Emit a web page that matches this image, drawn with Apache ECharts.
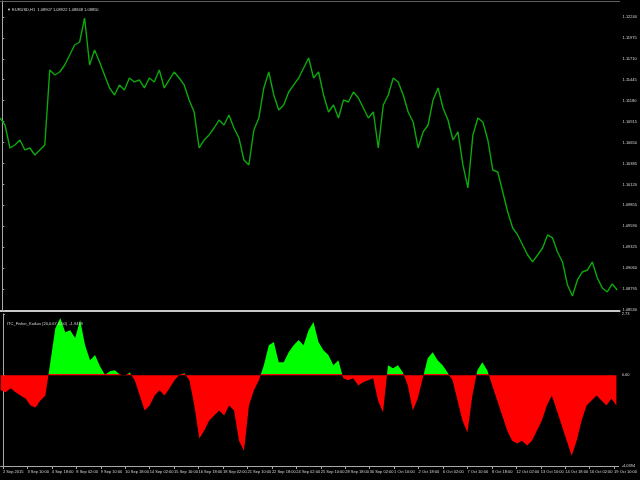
<!DOCTYPE html>
<html><head><meta charset="utf-8">
<script src="https://cdn.jsdelivr.net/npm/echarts@6/dist/echarts.min.js"></script>
<style>html,body{margin:0;padding:0;background:#000}#c{width:640px;height:480px}</style>
</head><body><div id="c"></div>
<script>
// ---- data ----
const chartTitle = '\u25BC EURUSD,H1  1.08907 1.08922 1.08848 1.08850';
const indicatorTitle = 'ITC_Fisher_Kaikus (20,0.67,0.50)  -1.9418';
const timeLabels = ['2 Sep 2015','3 Sep 10:00','4 Sep 18:00','8 Sep 02:00','9 Sep 10:00','10 Sep 18:00','14 Sep 02:00','15 Sep 10:00','16 Sep 18:00','18 Sep 02:00','21 Sep 10:00','22 Sep 18:00','24 Sep 02:00','25 Sep 10:00','28 Sep 18:00','30 Sep 02:00','1 Oct 10:00','2 Oct 18:00','6 Oct 02:00','7 Oct 10:00','8 Oct 18:00','12 Oct 02:00','13 Oct 10:00','14 Oct 18:00','16 Oct 02:00','19 Oct 10:00'];
const barsPerLabel = 32;          // H1 bars between time labels
const sampleStart = -3;           // bar index of first sample
const sampleStep = 6.5;           // bars between samples
const priceTicks = [1.08530,1.08795,1.09060,1.09325,1.09590,1.09855,1.10120,1.10385,1.10650,1.10915,1.11180,1.11445,1.11710,1.11975,1.12240];
const indicatorMax = 2.73;
const indicatorMin = -4.0394;
const indicatorTicks = [2.73, 0, -4.0394];
const indicatorTickText = ['2.73','0.00','-4.0394'];
const price = [
1.10961,1.10872,1.10581,1.10619,1.10682,1.10556,1.10581,1.10492,1.10556,1.10619,
1.11568,1.11505,1.11543,1.11632,1.11758,1.11885,1.11923,1.12227,1.11632,1.11822,
1.11670,1.11505,1.11341,1.11252,1.11379,1.11315,1.11467,1.11417,1.11442,1.11341,
1.11467,1.11417,1.11568,1.11341,1.11442,1.11543,1.11467,1.11379,1.11189,1.11037,
1.10581,1.10682,1.10746,1.10834,1.10935,1.10872,1.10999,1.10834,1.10708,1.10429,
1.10366,1.10809,1.10961,1.11341,1.11543,1.11252,1.11062,1.11125,1.11290,1.11379,
1.11467,1.11594,1.11720,1.11467,1.11543,1.11252,1.11037,1.11125,1.10961,1.11189,
1.11163,1.11290,1.11214,1.11087,1.10961,1.11037,1.10581,1.11125,1.11252,1.11467,
1.11417,1.11252,1.11037,1.10910,1.10581,1.10784,1.10872,1.11189,1.11341,1.11087,
1.10935,1.10682,1.10784,1.10366,1.10075,1.10746,1.10961,1.10910,1.10682,1.10302,
1.10277,1.10024,1.09771,1.09568,1.09480,1.09353,1.09226,1.09138,1.09226,1.09315,
1.09480,1.09442,1.09264,1.09138,1.08847,1.08707,1.08910,1.09011,1.09036,1.09138,
1.08935,1.08809,1.08758,1.08859,1.08783];
const fisher = [
-0.67,-0.76,-0.58,-0.76,-0.90,-1.03,-1.34,-1.43,-1.12,-0.90,
0.58,2.10,2.55,1.92,2.01,1.66,2.46,1.34,0.67,0.90,
0.40,0.03,0.18,0.22,0.04,-0.02,0.13,-0.22,-0.90,-1.57,
-1.34,-0.90,-0.67,-0.90,-0.58,-0.22,0.02,0.09,-0.22,-1.34,
-2.82,-2.46,-2.01,-1.79,-1.57,-1.79,-1.34,-1.57,-2.91,-3.36,
-1.34,-0.67,-0.22,0.45,1.34,1.48,0.58,0.58,1.03,1.34,
1.57,1.34,2.01,2.37,1.48,1.12,0.90,0.45,0.67,-0.13,
-0.22,-0.13,-0.45,-0.31,-0.22,-0.13,-1.12,-1.66,0.45,0.31,
0.45,0.13,-0.45,-1.57,-1.03,-0.13,0.76,1.03,0.67,0.45,
0.13,-0.22,-1.12,-2.01,-2.55,-0.90,0.22,0.58,0.22,-0.45,
-1.12,-1.79,-2.46,-2.91,-3.04,-2.91,-3.13,-2.91,-2.46,-2.01,
-1.34,-0.90,-1.57,-2.24,-2.91,-3.58,-2.91,-2.01,-1.34,-1.12,
-0.90,-1.12,-1.34,-1.03,-1.34];

// ---- chart ----
const bars = v => v.map((y, i) => [sampleStart + i * sampleStep, y]);
const labelColor = '#d8d8d8';
const axisColor = '#a8a8a8';
const font = 'Liberation Sans';
const fs = 4;
const zeroStop = indicatorMax / (indicatorMax - indicatorMin);
const posNeg = {type: 'linear', x: 0, y: 0, x2: 0, y2: 1, colorStops: [
  {offset: 0, color: '#00ff00'}, {offset: zeroStop, color: '#00ff00'},
  {offset: zeroStop, color: '#ff0000'}, {offset: 1, color: '#ff0000'}]};
const chart = echarts.init(document.getElementById('c'), null, {renderer: 'canvas'});
const xBase = {type: 'value', min: -3, max: 806, splitLine: {show: false}};
const tickBars = timeLabels.map((_, k) => k * barsPerLabel);
chart.setOption({
  backgroundColor: '#000',
  animation: false,
  title: [
    {text: chartTitle, left: 2, top: 3, textStyle: {color: labelColor, fontSize: fs, fontWeight: 'normal', fontFamily: font}},
    {text: indicatorTitle, left: 2, top: 317, textStyle: {color: labelColor, fontSize: fs, fontWeight: 'normal', fontFamily: font}}
  ],
  grid: [
    {left: 0, right: 17, top: 1, height: 310},
    {left: 0, right: 17, top: 314, height: 152}
  ],
  xAxis: [
    Object.assign({}, xBase, {gridIndex: 0, position: 'bottom', axisLine: {onZero: false, lineStyle: {color: '#c8c8c8', width: 2}}, axisTick: {show: false}, axisLabel: {show: false}}),
    Object.assign({}, xBase, {gridIndex: 0, position: 'top', axisLine: {onZero: false, lineStyle: {color: '#606060', width: 1}}, axisTick: {show: false}, axisLabel: {show: false}}),
    Object.assign({}, xBase, {gridIndex: 1, position: 'bottom',
      axisLine: {onZero: false, lineStyle: {color: axisColor, width: 1}},
      axisTick: {show: true, length: 3, lineStyle: {color: axisColor}, customValues: tickBars},
      axisLabel: {show: true, color: labelColor, fontSize: fs, fontFamily: font, align: 'left', margin: 4,
        customValues: tickBars,
        formatter: v => timeLabels[Math.round(v / barsPerLabel)] || ''}})
  ],
  yAxis: [
    {type: 'value', gridIndex: 0, position: 'right', min: 1.08517, max: 1.12442, scale: true,
      splitLine: {show: false},
      axisLine: {show: true, lineStyle: {color: axisColor}},
      axisTick: {show: true, length: 2, lineStyle: {color: axisColor}, customValues: priceTicks},
      axisLabel: {show: true, color: labelColor, fontSize: fs, fontFamily: font, margin: 3, customValues: priceTicks,
        formatter: v => v.toFixed(5)}},
    {type: 'value', gridIndex: 1, position: 'right', min: indicatorMin, max: indicatorMax,
      splitLine: {show: false},
      axisLine: {show: true, lineStyle: {color: axisColor}},
      axisTick: {show: true, length: 2, lineStyle: {color: axisColor}, customValues: indicatorTicks},
      axisLabel: {show: true, color: labelColor, fontSize: fs, fontFamily: font, margin: 3, customValues: indicatorTicks,
        formatter: v => indicatorTickText[indicatorTicks.findIndex(t => Math.abs(t - v) < 1e-6)] || ''}}
  ],
  series: [
    {type: 'line', xAxisIndex: 0, yAxisIndex: 0, data: bars(price), showSymbol: false,
      lineStyle: {color: '#0ca80c', width: 1.4}},
    {type: 'line', xAxisIndex: 2, yAxisIndex: 1, data: bars(fisher), showSymbol: false,
      lineStyle: {width: 0}, areaStyle: {opacity: 1, origin: 0, color: posNeg}}
  ]
});
</script></body></html>
